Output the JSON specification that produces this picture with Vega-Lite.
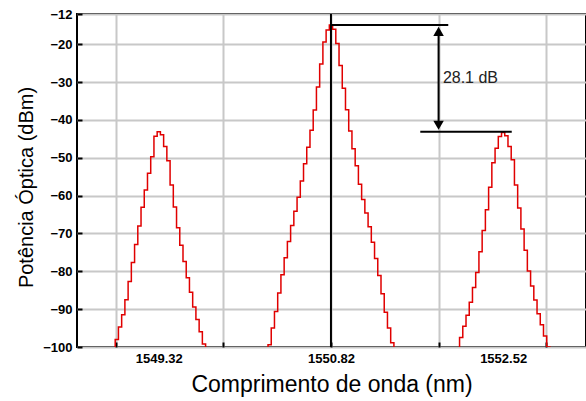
{
  "$schema": "https://vega.github.io/schema/vega-lite/v6.json",
  "width": 509,
  "height": 333,
  "autosize": {"type": "none"},
  "padding": {"left": 77, "top": 14, "right": 0, "bottom": 54},
  "background": "white",
  "config": {
    "view": {"stroke": "black", "strokeWidth": 2},
    "font": "Liberation Sans"
  },
  "datasets": {
    "spectrum": [
      {"peak": "A", "wl": 1548.87, "p": -104.0},
      {"peak": "A", "wl": 1548.90, "p": -101.0},
      {"peak": "A", "wl": 1548.93, "p": -98.0},
      {"peak": "A", "wl": 1548.96, "p": -94.7},
      {"peak": "A", "wl": 1548.99, "p": -91.5},
      {"peak": "A", "wl": 1549.02, "p": -87.5},
      {"peak": "A", "wl": 1549.05, "p": -82.7},
      {"peak": "A", "wl": 1549.08, "p": -77.7},
      {"peak": "A", "wl": 1549.11, "p": -72.9},
      {"peak": "A", "wl": 1549.14, "p": -68.0},
      {"peak": "A", "wl": 1549.17, "p": -63.1},
      {"peak": "A", "wl": 1549.20, "p": -58.5},
      {"peak": "A", "wl": 1549.23, "p": -54.1},
      {"peak": "A", "wl": 1549.26, "p": -49.7},
      {"peak": "A", "wl": 1549.29, "p": -44.3},
      {"peak": "A", "wl": 1549.32, "p": -43.1},
      {"peak": "A", "wl": 1549.35, "p": -43.9},
      {"peak": "A", "wl": 1549.38, "p": -47.0},
      {"peak": "A", "wl": 1549.41, "p": -50.8},
      {"peak": "A", "wl": 1549.44, "p": -57.2},
      {"peak": "A", "wl": 1549.47, "p": -63.0},
      {"peak": "A", "wl": 1549.50, "p": -68.5},
      {"peak": "A", "wl": 1549.53, "p": -73.1},
      {"peak": "A", "wl": 1549.56, "p": -77.4},
      {"peak": "A", "wl": 1549.59, "p": -81.7},
      {"peak": "A", "wl": 1549.62, "p": -85.5},
      {"peak": "A", "wl": 1549.65, "p": -89.4},
      {"peak": "A", "wl": 1549.68, "p": -92.7},
      {"peak": "A", "wl": 1549.71, "p": -96.0},
      {"peak": "A", "wl": 1549.74, "p": -99.2},
      {"peak": "A", "wl": 1549.77, "p": -102.4},
      {"peak": "A", "wl": 1549.80, "p": -105.0},
      {"peak": "B", "wl": 1550.29, "p": -108.0},
      {"peak": "B", "wl": 1550.32, "p": -103.9},
      {"peak": "B", "wl": 1550.35, "p": -99.4},
      {"peak": "B", "wl": 1550.38, "p": -95.0},
      {"peak": "B", "wl": 1550.41, "p": -90.6},
      {"peak": "B", "wl": 1550.44, "p": -85.7},
      {"peak": "B", "wl": 1550.47, "p": -80.9},
      {"peak": "B", "wl": 1550.50, "p": -76.4},
      {"peak": "B", "wl": 1550.53, "p": -72.1},
      {"peak": "B", "wl": 1550.56, "p": -67.9},
      {"peak": "B", "wl": 1550.59, "p": -64.1},
      {"peak": "B", "wl": 1550.62, "p": -60.4},
      {"peak": "B", "wl": 1550.65, "p": -56.1},
      {"peak": "B", "wl": 1550.68, "p": -51.6},
      {"peak": "B", "wl": 1550.71, "p": -47.2},
      {"peak": "B", "wl": 1550.74, "p": -42.7},
      {"peak": "B", "wl": 1550.77, "p": -37.4},
      {"peak": "B", "wl": 1550.80, "p": -31.3},
      {"peak": "B", "wl": 1550.83, "p": -25.2},
      {"peak": "B", "wl": 1550.86, "p": -19.4},
      {"peak": "B", "wl": 1550.89, "p": -16.2},
      {"peak": "B", "wl": 1550.92, "p": -14.9},
      {"peak": "B", "wl": 1550.95, "p": -16.0},
      {"peak": "B", "wl": 1550.98, "p": -19.8},
      {"peak": "B", "wl": 1551.01, "p": -25.6},
      {"peak": "B", "wl": 1551.04, "p": -31.6},
      {"peak": "B", "wl": 1551.07, "p": -37.3},
      {"peak": "B", "wl": 1551.10, "p": -42.9},
      {"peak": "B", "wl": 1551.13, "p": -47.6},
      {"peak": "B", "wl": 1551.16, "p": -52.1},
      {"peak": "B", "wl": 1551.19, "p": -57.0},
      {"peak": "B", "wl": 1551.22, "p": -61.0},
      {"peak": "B", "wl": 1551.25, "p": -64.6},
      {"peak": "B", "wl": 1551.28, "p": -68.2},
      {"peak": "B", "wl": 1551.31, "p": -72.3},
      {"peak": "B", "wl": 1551.34, "p": -76.6},
      {"peak": "B", "wl": 1551.37, "p": -81.1},
      {"peak": "B", "wl": 1551.40, "p": -85.9},
      {"peak": "B", "wl": 1551.43, "p": -90.8},
      {"peak": "B", "wl": 1551.46, "p": -95.0},
      {"peak": "B", "wl": 1551.49, "p": -98.9},
      {"peak": "B", "wl": 1551.52, "p": -103.0},
      {"peak": "B", "wl": 1551.55, "p": -107.0},
      {"peak": "C", "wl": 1552.07, "p": -103.3},
      {"peak": "C", "wl": 1552.10, "p": -100.4},
      {"peak": "C", "wl": 1552.13, "p": -97.5},
      {"peak": "C", "wl": 1552.16, "p": -94.5},
      {"peak": "C", "wl": 1552.19, "p": -91.6},
      {"peak": "C", "wl": 1552.22, "p": -88.2},
      {"peak": "C", "wl": 1552.25, "p": -84.3},
      {"peak": "C", "wl": 1552.28, "p": -80.3},
      {"peak": "C", "wl": 1552.31, "p": -74.8},
      {"peak": "C", "wl": 1552.34, "p": -69.2},
      {"peak": "C", "wl": 1552.37, "p": -63.7},
      {"peak": "C", "wl": 1552.40, "p": -57.8},
      {"peak": "C", "wl": 1552.43, "p": -51.3},
      {"peak": "C", "wl": 1552.46, "p": -47.5},
      {"peak": "C", "wl": 1552.49, "p": -44.4},
      {"peak": "C", "wl": 1552.52, "p": -43.3},
      {"peak": "C", "wl": 1552.55, "p": -44.2},
      {"peak": "C", "wl": 1552.58, "p": -47.0},
      {"peak": "C", "wl": 1552.61, "p": -50.5},
      {"peak": "C", "wl": 1552.64, "p": -57.2},
      {"peak": "C", "wl": 1552.67, "p": -63.3},
      {"peak": "C", "wl": 1552.70, "p": -68.8},
      {"peak": "C", "wl": 1552.73, "p": -74.4},
      {"peak": "C", "wl": 1552.76, "p": -79.9},
      {"peak": "C", "wl": 1552.79, "p": -83.9},
      {"peak": "C", "wl": 1552.82, "p": -87.6},
      {"peak": "C", "wl": 1552.85, "p": -91.2},
      {"peak": "C", "wl": 1552.88, "p": -94.1},
      {"peak": "C", "wl": 1552.91, "p": -97.1},
      {"peak": "C", "wl": 1552.94, "p": -100.0},
      {"peak": "C", "wl": 1552.97, "p": -102.9}
    ],
    "segments": [
      {"wl": 1550.92, "wl2": 1550.92, "p": -100, "p2": -12},
      {"wl": 1550.92, "wl2": 1552.01, "p": -14.9, "p2": -14.9},
      {"wl": 1551.75, "wl2": 1552.60, "p": -43.1, "p2": -43.1},
      {"wl": 1551.92, "wl2": 1551.92, "p": -16.5, "p2": -41.5}
    ],
    "arrows": [
      {"wl": 1551.92, "p": -16.6, "shape": "triangle-up"},
      {"wl": 1551.92, "p": -41.4, "shape": "triangle-down"}
    ],
    "labels": [
      {"wl": 1551.96, "p": -28.9, "text": "28.1 dB"}
    ]
  },
  "encoding": {
    "x": {
      "field": "wl", "type": "quantitative",
      "scale": {"domain": [1548.56, 1553.29], "nice": false, "zero": false},
      "axis": {
        "title": "Comprimento de onda (nm)",
        "values": [1548.92, 1549.32, 1549.92, 1550.92, 1551.92, 1552.52, 1552.92],
        "labelExpr": "datum.value == 1549.32 ? '1549.32' : datum.value == 1550.92 ? '1550.82' : datum.value == 1552.52 ? '1552.52' : ''",
        "labelOverlap": false,
        "labelFlush": false,
        "labelFontSize": 13,
        "labelFontWeight": "bold",
        "labelColor": "black",
        "labelPadding": 10,
        "tickSize": -5,
        "tickColor": "black",
        "tickWidth": 2,
        "tickOpacity": {"condition": {"test": "datum.value == 1549.32 || datum.value == 1552.52", "value": 0}, "value": 1},
        "gridOpacity": {"condition": {"test": "datum.value == 1549.32 || datum.value == 1552.52", "value": 0}, "value": 1},
        "gridColor": "#c8c8c8",
        "gridWidth": 2,
        "domain": false,
        "titleFontSize": 23,
        "titleFontWeight": "normal",
        "titleColor": "black",
        "titlePadding": 8
      }
    },
    "y": {
      "field": "p", "type": "quantitative",
      "scale": {"domain": [-100, -12], "nice": false, "zero": false},
      "axis": {
        "title": "Potência Óptica (dBm)",
        "values": [-12, -20, -30, -40, -50, -60, -70, -80, -90, -100],
        "labelFontSize": 13,
        "labelFontWeight": "bold",
        "labelColor": "black",
        "labelOverlap": false,
        "labelFlush": false,
        "labelPadding": 10,
        "tickSize": -5,
        "tickColor": "black",
        "tickWidth": 2,
        "gridColor": "#c8c8c8",
        "gridWidth": 2,
        "domain": false,
        "titleFontSize": 20,
        "titleFontWeight": "normal",
        "titleColor": "black",
        "titlePadding": 6,
        "titleY": 173
      }
    }
  },
  "layer": [
    {
      "data": {"name": "spectrum"},
      "mark": {"type": "line", "color": "#e00000", "strokeWidth": 1.5, "interpolate": "step", "clip": true},
      "encoding": {
        "detail": {"field": "peak"}
      }
    },
    {
      "data": {"name": "segments"},
      "mark": {"type": "rule", "color": "black", "strokeWidth": 2},
      "encoding": {
        "x2": {"field": "wl2"},
        "y2": {"field": "p2"}
      }
    },
    {
      "data": {"name": "arrows"},
      "mark": {"type": "point", "filled": true, "color": "black", "size": 110, "opacity": 1},
      "encoding": {
        "shape": {"field": "shape", "type": "nominal", "scale": null}
      }
    },
    {
      "data": {"name": "labels"},
      "mark": {"type": "text", "align": "left", "baseline": "middle", "fontSize": 16, "color": "#222222", "font": "Liberation Sans"},
      "encoding": {
        "text": {"field": "text"}
      }
    }
  ]
}
